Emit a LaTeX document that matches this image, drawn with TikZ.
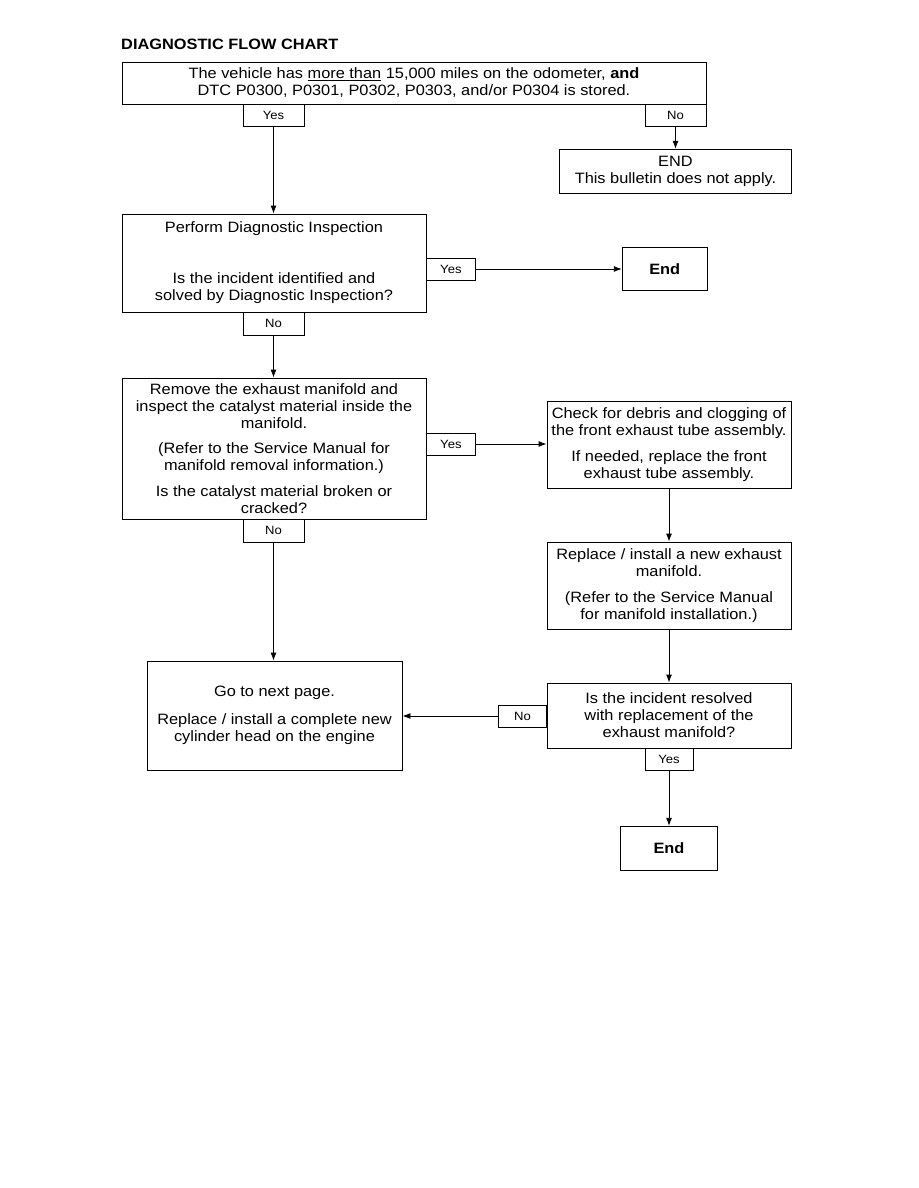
\documentclass[tikz,border=0pt]{standalone}
\usepackage{fontspec}
\setmainfont{Liberation Sans}[FakeStretch=1.09]
\usetikzlibrary{arrows.meta, positioning}
\tikzset{
  box/.style={
    draw=black,
    line width=0.9pt,
    align=center,
    inner sep=0pt,
    font=\fontsize{15}{17}\selectfont
  },
  endbox/.style={box, font=\fontsize{15}{17}\selectfont\bfseries},
  tab/.style={draw=black, line width=0.8pt, inner sep=0pt, minimum height=22pt,
    font=\fontsize{12}{14}\selectfont},
  arrow/.style={-{Latex[length=8pt, width=6pt]}, line width=0.9pt, draw=black}
}

\begin{document}
\begin{tikzpicture}[x=1pt, y=-1pt]

\fill[white] (0,0) rectangle (918,1188);
\useasboundingbox (0,0) rectangle (918,1188);

\node[anchor=base west, inner sep=0pt, font=\fontsize{15}{17}\selectfont\bfseries] (title) at (121,50) {DIAGNOSTIC FLOW CHART};

\node[box, minimum width=584pt, minimum height=42pt] (mileage) at (414,83) {
  The vehicle has \underline{more than} 15,000 miles on the odometer, \textbf{and}\\
  DTC P0300, P0301, P0302, P0303, and/or P0304 is stored.
};
\node[tab, minimum width=61pt, anchor=north] (mileyes) at (273.5,104) {Yes};
\node[tab, minimum width=61pt, anchor=north] (mileno) at (675.5,104) {No};

\node[box, minimum width=232pt, minimum height=44pt, below=22pt of mileno] (notapply) {
  END\\
  This bulletin does not apply.
};

\node[box, minimum width=304pt, minimum height=98pt] (inspect) at (274,263) {
  Perform Diagnostic Inspection\\[34pt]
  Is the incident identified and\\
  solved by Diagnostic Inspection?
};
\node[tab, minimum width=49pt, anchor=west] (inspyes) at (426,269) {Yes};
\node[tab, minimum width=61pt, minimum height=23pt, anchor=north] (inspno) at (273.5,312) {No};
\node[endbox, minimum width=85pt, minimum height=43pt, right=146pt of inspyes] (endone) {End};

\node[box, minimum width=304pt, minimum height=141pt] (catalyst) at (274,448.5) {
  Remove the exhaust manifold and\\
  inspect the catalyst material inside the\\
  manifold.\\[8.5pt]
  (Refer to the Service Manual for\\
  manifold removal information.)\\[8.5pt]
  Is the catalyst material broken or\\
  cracked?
};
\node[tab, minimum width=49pt, anchor=west] (catyes) at (426,444) {Yes};
\node[tab, minimum width=61pt, minimum height=23pt, anchor=north] (catno) at (273.5,519) {No};

\node[box, minimum width=244pt, minimum height=87pt] (debris) at (669,444.5) {
  Check for debris and clogging of\\
  the front exhaust tube assembly.\\[9pt]
  If needed, replace the front\\
  exhaust tube assembly.
};

\node[box, minimum width=244pt, minimum height=87pt] (newmani) at (669,585.5) {
  Replace / install a new exhaust\\
  manifold.\\[8.5pt]
  (Refer to the Service Manual\\
  for manifold installation.)
};

\node[box, minimum width=244pt, minimum height=65pt] (resolved) at (669,715.5) {
  Is the incident resolved\\
  with replacement of the\\
  exhaust manifold?
};
\node[tab, minimum width=48pt, anchor=east] (resno) at (547,716) {No};
\node[tab, minimum width=48pt, anchor=north] (resyes) at (669,748) {Yes};
\node[endbox, minimum width=97pt, minimum height=44pt, below=55pt of resyes] (endtwo) {End};

\node[box, minimum width=255pt, minimum height=109pt] (head) at (274.5,715.5) {
  Go to next page.\\[10.5pt]
  Replace / install a complete new\\
  cylinder head on the engine
};

\draw[arrow] (mileyes.south) -- (mileyes.south |- inspect.north);
\draw[arrow] (mileno.south) -- (notapply.north);
\draw[arrow] (inspyes.east) -- (endone.west |- inspyes.east);
\draw[arrow] (inspno.south) -- (inspno.south |- catalyst.north);
\draw[arrow] (catyes.east) -- (debris.west |- catyes.east);
\draw[arrow] (catno.south) -- (catno.south |- head.north);
\draw[arrow] (debris) -- (newmani);
\draw[arrow] (newmani) -- (resolved);
\draw[arrow] (resno.west) -- (head.east |- resno.west);
\draw[arrow] (resyes.south) -- (endtwo.north);

\end{tikzpicture}
\end{document}
